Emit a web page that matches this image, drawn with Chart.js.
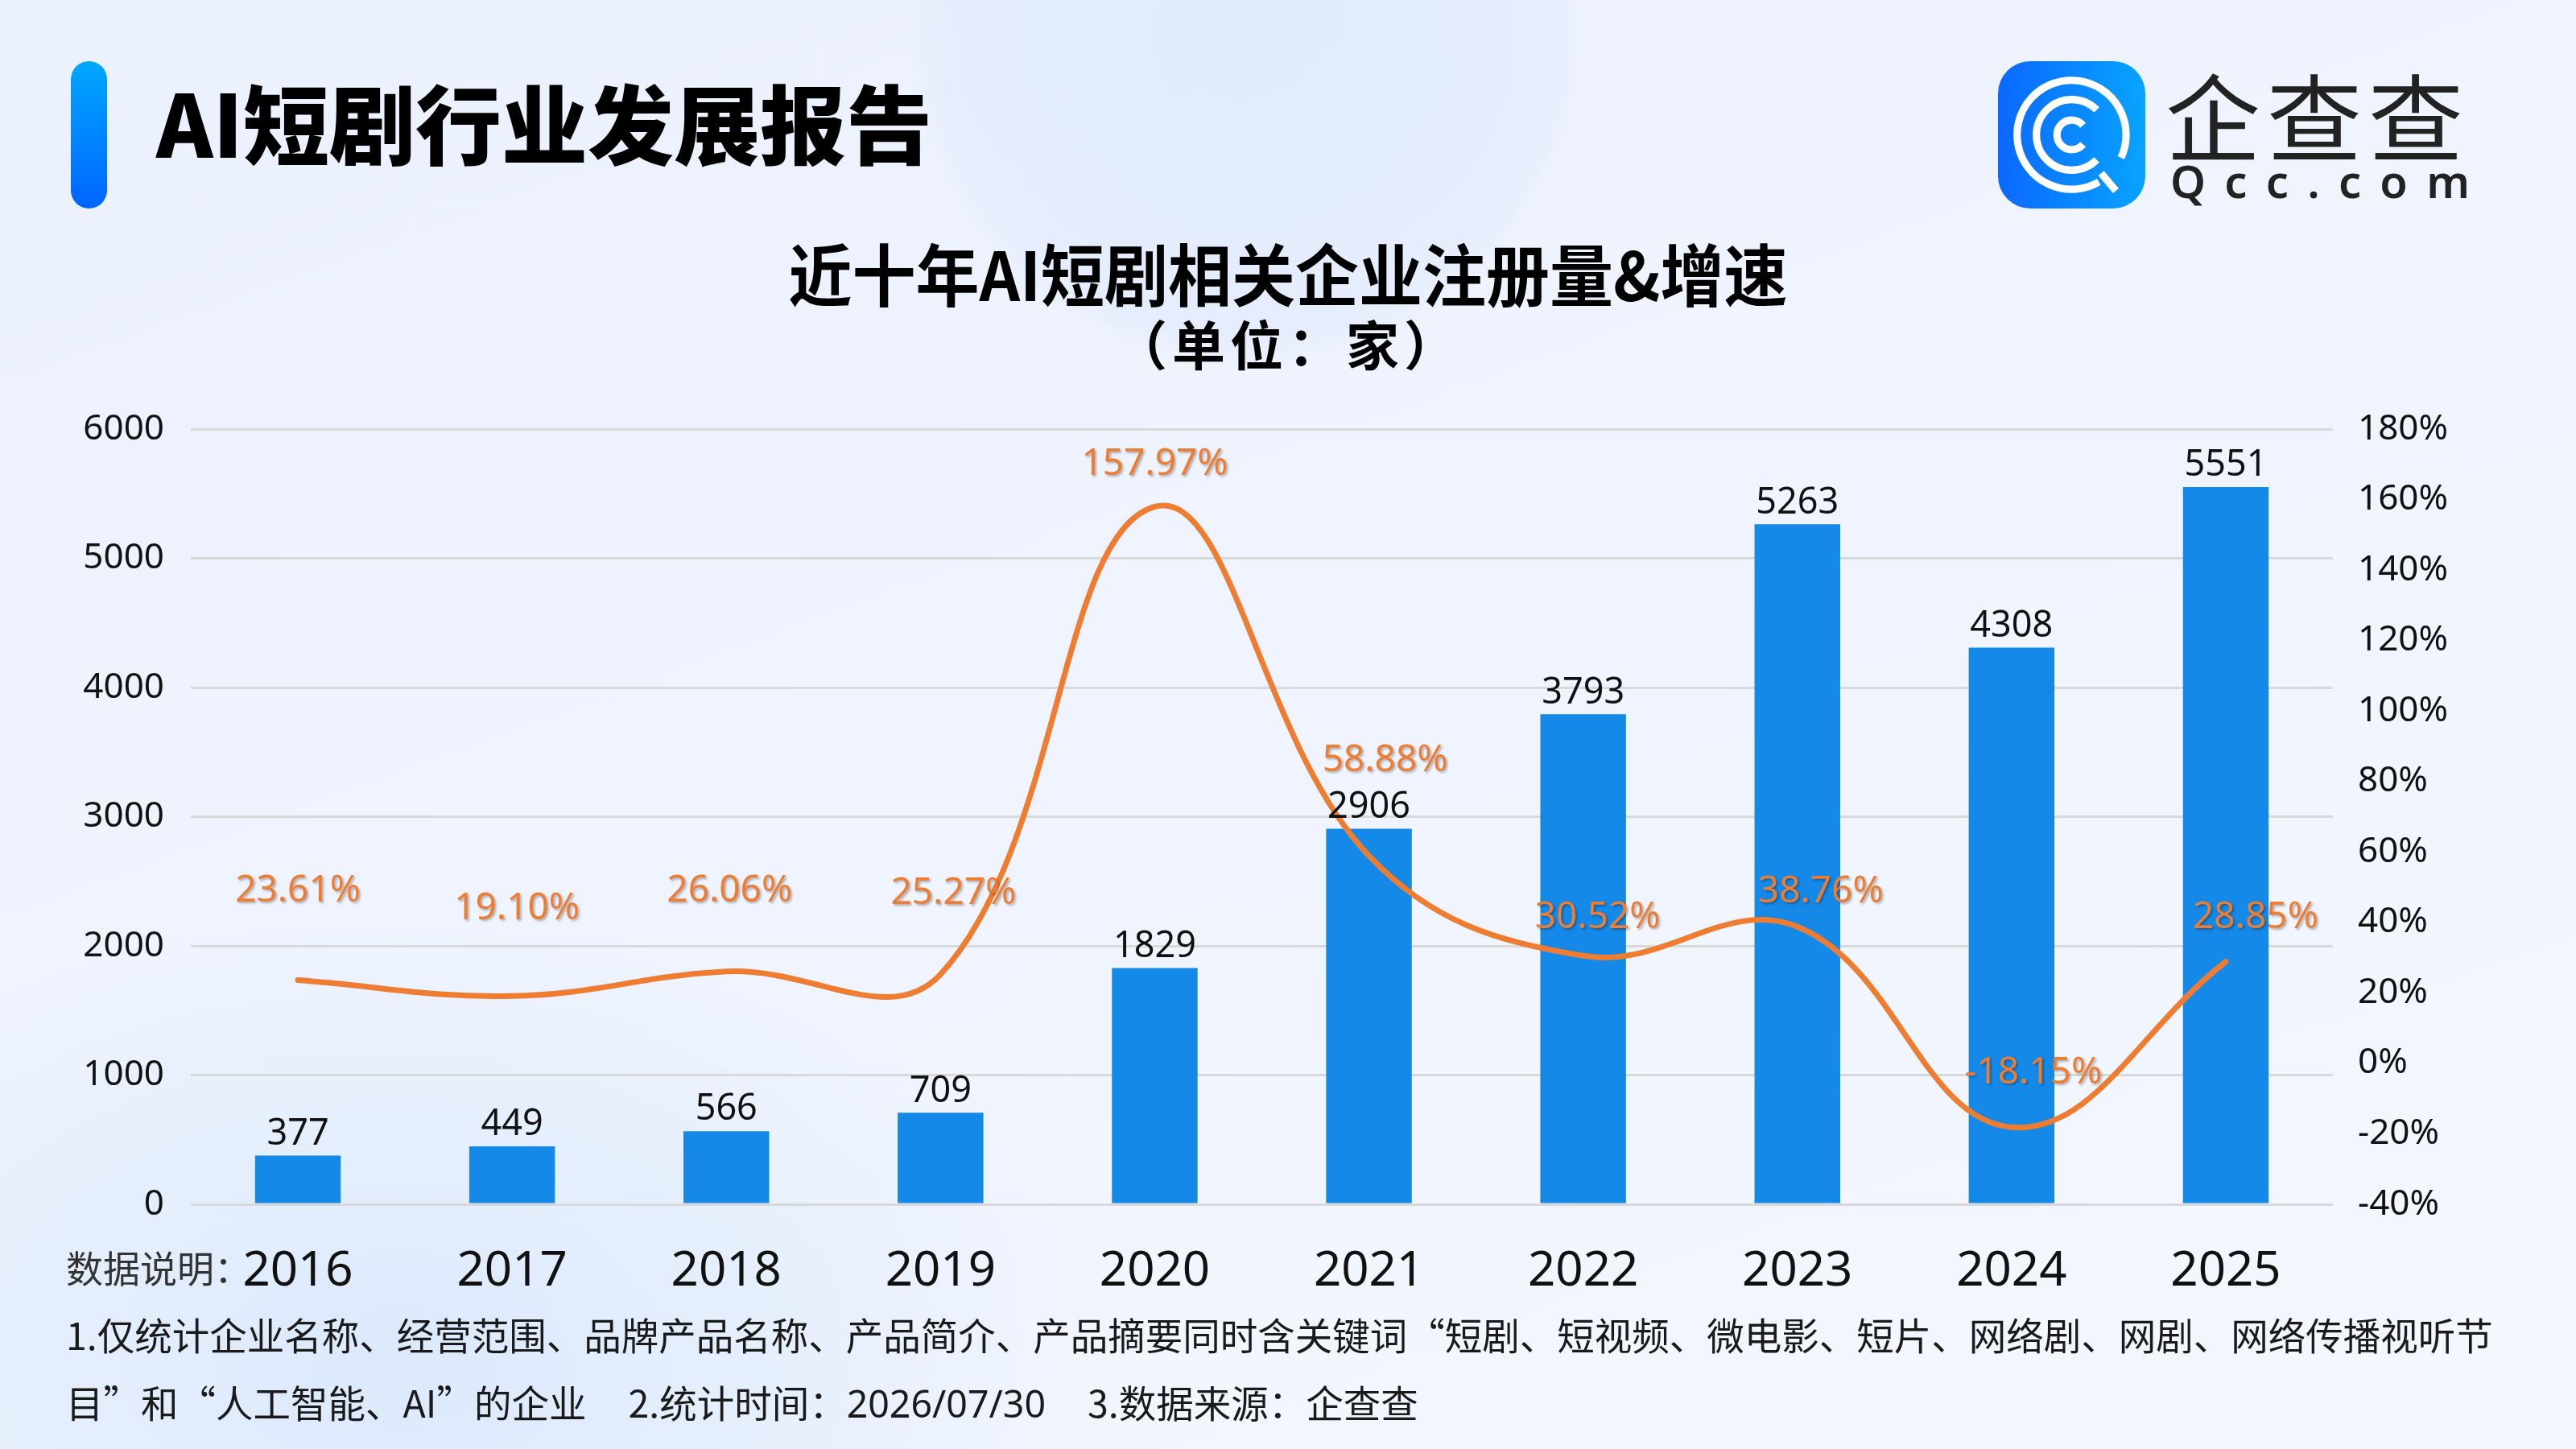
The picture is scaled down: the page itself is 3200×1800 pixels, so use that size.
<!DOCTYPE html>
<html>
<head>
<meta charset="utf-8">
<script src="https://cdn.jsdelivr.net/npm/chart.js@4.4.1/dist/chart.umd.min.js"></script>
<style>
  html, body { margin: 0; padding: 0; }
  body {
    width: 3200px; height: 1800px; position: relative; overflow: hidden;
    font-family: "Noto Sans CJK SC", "Noto Sans", sans-serif;
    background:
      radial-gradient(circle at 1550px 40px, rgba(215,228,250,0.55) 0, rgba(215,228,250,0.35) 380px, rgba(215,228,250,0) 420px),
      radial-gradient(ellipse at 500px 1700px, rgba(205,225,250,0.6) 0, rgba(205,225,250,0) 900px),
      linear-gradient(160deg, #ebf1fd 0%, #eff4fe 50%, #f4f7fe 100%);
  }
  .accent {
    position: absolute; left: 88px; top: 76px; width: 45px; height: 183px;
    border-radius: 23px; background: linear-gradient(180deg, #00a8ff, #0064ff);
  }
  .title {
    position: absolute; left: 194px; top: 96px; font-size: 107px; line-height: 1;
    font-weight: 900; color: #000; white-space: nowrap;
  }
  .logo-icon { position: absolute; left: 2482px; top: 76px; width: 183px; height: 183px; }
  .logo-cn {
    position: absolute; left: 2690px; top: 82px; font-size: 118px; line-height: 1;
    font-weight: 400; color: #222; letter-spacing: 8px; white-space: nowrap;
  }
  .logo-en {
    position: absolute; left: 2696px; top: 196px; width: 372px; display: flex;
    justify-content: space-between; font-family: "Noto Sans", sans-serif;
    font-size: 56px; line-height: 1; color: #222; font-weight: 600;
  }
  .ctitle {
    position: absolute; left: 0; width: 3200px; text-align: center; top: 298px;
    font-size: 79px; line-height: 1; font-weight: 700; color: #000;
    transform: scaleY(1.06);
  }
  .csub {
    position: absolute; left: 0; width: 3200px; text-align: center; top: 392px;
    font-size: 66px; line-height: 1; font-weight: 700; color: #000; letter-spacing: 6px;
  }
  .chart-box { position: absolute; left: 0; top: 440px; width: 3200px; height: 1220px; }
  .note-head {
    position: absolute; left: 82px; top: 1548px; font-size: 46px; line-height: 50px;
    color: #333;
  }
  .notes {
    position: absolute; left: 82px; top: 1615px; font-size: 46.5px; line-height: 84px;
    color: #1a1a1a; white-space: nowrap;
  }
  .notes .gap { margin-left: 52px; }
  .notes .num { font-family: "Noto Sans", sans-serif; }
</style>
</head>
<body>
<div class="accent"></div>
<div class="title">AI短剧行业发展报告</div>

<svg class="logo-icon" viewBox="0 0 100 100">
  <defs>
    <linearGradient id="lg" x1="0" y1="0" x2="1" y2="0">
      <stop offset="0" stop-color="#0b68ff"/>
      <stop offset="1" stop-color="#08a4ff"/>
    </linearGradient>
  </defs>
  <rect x="0" y="0" width="100" height="100" rx="22" fill="url(#lg)"/>
  <g fill="none" stroke="#fff" stroke-width="5">
    <path d="M68.5 82 A37 37 0 1 1 83.5 65.6"/>
    <path d="M70 76 L80 88"/>
    <path d="M67 67 A24 24 0 1 1 67 33"/>
    <path d="M57.7 56.4 A10 10 0 1 1 57.7 43.6"/>
  </g>
</svg>
<div class="logo-cn">企查查</div>
<div class="logo-en"><span>Q</span><span>c</span><span>c</span><span>.</span><span>c</span><span>o</span><span>m</span></div>

<div class="ctitle">近十年AI短剧相关企业注册量&amp;增速</div>
<div class="csub">（单位：家）</div>

<div class="chart-box"><canvas id="regChart"></canvas></div>

<div class="note-head">数据说明：</div>
<div class="notes">1.仅统计企业名称、经营范围、品牌产品名称、产品简介、产品摘要同时含关键词“短剧、短视频、微电影、短片、网络剧、网剧、网络传播视听节<br>目”和“人工智能、AI”的企业<span class="gap">2.统计时间：<span class="num">2026/07/30</span></span><span class="gap">3.数据来源：企查查</span></div>

<script>
// 年份与数据
const years = ['2016', '2017', '2018', '2019', '2020', '2021', '2022', '2023', '2024', '2025'];
const regCounts = [377, 449, 566, 709, 1829, 2906, 3793, 5263, 4308, 5551];
const growthRates = [23.61, 19.10, 26.06, 25.27, 157.97, 58.88, 30.52, 38.76, -18.15, 28.85];

const countAxis = { min: 0, max: 6000, step: 1000 };
const rateAxis = { min: -40, max: 180, step: 20 };

// 增速标签相对折线点的偏移 (原图里手动挪过)
const rateLabelShift = [
    [0, 111], [6, 108], [4, 100], [16, 100], [0, 53],
    [20, 118], [18, 47], [29, 43], [27, 67], [37, 55]
];

const tickFont = { family: 'Noto Sans', size: 44 };

// 柱顶数值 + 折线百分比标签
const valueLabels = {
    id: 'valueLabels',
    afterDatasetsDraw(chart) {
        const ctx = chart.ctx;
        ctx.save();
        ctx.textAlign = 'center';

        ctx.font = '45px "Noto Sans"';
        ctx.fillStyle = '#111';
        ctx.textBaseline = 'bottom';
        chart.getDatasetMeta(0).data.forEach((bar, i) => {
            ctx.fillText(String(regCounts[i]), bar.x, bar.y - 4);
        });

        ctx.font = '46px "Noto Sans"';
        ctx.fillStyle = '#ee7d31';
        ctx.textBaseline = 'middle';
        ctx.shadowColor = 'rgba(0,0,0,0.3)';
        ctx.shadowOffsetX = 2;
        ctx.shadowOffsetY = 2;
        ctx.shadowBlur = 3;
        chart.getDatasetMeta(1).data.forEach((pt, i) => {
            const s = rateLabelShift[i];
            ctx.fillText(growthRates[i].toFixed(2) + '%', pt.x + s[0], pt.y - s[1]);
        });
        ctx.restore();
    }
};

const ctx = document.getElementById('regChart').getContext('2d');
new Chart(ctx, {
    data: {
        labels: years,
        datasets: [{
            type: 'bar',
            label: '注册量',
            data: regCounts,
            backgroundColor: '#1589e8',
            barPercentage: 0.4,
            categoryPercentage: 1,
            yAxisID: 'y',
            order: 1
        }, {
            type: 'line',
            label: '增速',
            data: growthRates,
            borderColor: '#ee7d31',
            borderWidth: 7,
            borderCapStyle: 'round',
            tension: 0.4,
            pointRadius: 0,
            yAxisID: 'y1',
            order: 0
        }]
    },
    options: {
        responsive: true,
        maintainAspectRatio: false,
        animation: false,
        devicePixelRatio: 1,
        layout: { padding: { top: 93, left: 0, right: 0, bottom: 0 } },
        scales: {
            x: {
                grid: { display: false },
                border: { display: false },
                ticks: { color: '#111', font: { family: 'Noto Sans', size: 60 }, padding: 40 },
                afterFit(scale) { scale.height = 164; }
            },
            y: {
                position: 'left',
                min: countAxis.min,
                max: countAxis.max,
                ticks: {
                    stepSize: countAxis.step, color: '#111', font: tickFont, padding: 33,
                    callback: v => String(v)
                },
                grid: { color: '#d9d9d9', lineWidth: 3, drawTicks: false },
                border: { display: false },
                afterFit(scale) { scale.width = 237; }
            },
            y1: {
                position: 'right',
                min: rateAxis.min,
                max: rateAxis.max,
                ticks: {
                    stepSize: rateAxis.step, color: '#111', font: tickFont, padding: 31,
                    callback: v => v + '%'
                },
                grid: { display: false, drawTicks: false },
                border: { display: false },
                afterFit(scale) { scale.width = 302; }
            }
        },
        plugins: {
            legend: { display: false },
            tooltip: { enabled: false }
        }
    },
    plugins: [valueLabels]
});
</script>
</body>
</html>
